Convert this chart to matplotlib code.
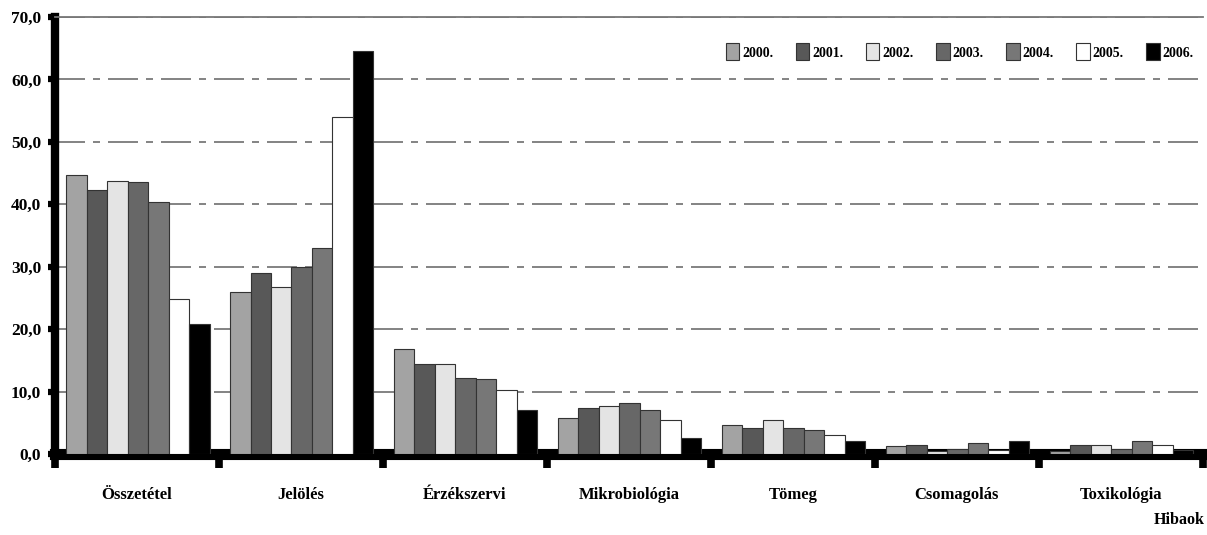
#!/usr/bin/env python3
"""
Grouped bar chart of food inspection faults by category, 2000-2006.
"""

import matplotlib.pyplot as plt  # type: ignore
from matplotlib.ticker import FuncFormatter  # type: ignore

categories = ["Összetétel", "Jelölés", "Érzékszervi", "Mikrobiológia",
              "Tömeg", "Csomagolás", "Toxikológia"]
years = ["2000.", "2001.", "2002.", "2003.", "2004.", "2005.", "2006."]

# percentage of faults per category, one list per year
v2000 = [44.7, 26.0, 16.8, 5.8, 4.6, 1.3, 0.5]
v2001 = [42.3, 29.0, 14.4, 7.4, 4.1, 1.4, 1.4]
v2002 = [43.8, 26.8, 14.4, 7.7, 5.4, 0.5, 1.4]
v2003 = [43.5, 30.0, 12.2, 8.2, 4.1, 0.8, 0.8]
v2004 = [40.3, 33.0, 12.0, 7.0, 3.8, 1.7, 2.1]
v2005 = [24.9, 54.0, 10.3, 5.4, 3.0, 0.7, 1.4]
v2006 = [20.8, 64.6, 7.0, 2.5, 2.1, 2.1, 0.7]
series = [v2000, v2001, v2002, v2003, v2004, v2005, v2006]

colors = ["#a3a3a3", "#585858", "#e4e4e4", "#676767", "#777777", "#ffffff", "#000000"]

FONT = "Liberation Serif"


def main() -> None:
    fig = plt.figure(figsize=(12.07, 5.35), dpi=100)
    ax = fig.add_axes([0.0456, 0.1514, 0.951, 0.8168])

    bar_w = 0.125
    offset = 0.067 + bar_w / 2
    for k, (vals, col) in enumerate(zip(series, colors)):
        xs = [i + offset + k * bar_w for i in range(len(categories))]
        ax.bar(xs, vals, width=bar_w, color=col, edgecolor="#333333",
               linewidth=0.8, label=years[k], zorder=3)

    ax.set_xlim(0, len(categories))
    ax.set_ylim(0, 70)

    # y axis: thick black line with square tick marks
    ax.set_yticks(range(0, 71, 10))
    ax.yaxis.set_major_formatter(FuncFormatter(lambda v, p: f"{v:.1f}".replace(".", ",")))
    ax.tick_params(axis="y", direction="out", length=5, width=4.5, pad=5,
                   labelsize=12.5)

    # x axis: group separators as ticks, category names at group centres
    ax.set_xticks(range(len(categories) + 1))
    ax.set_xticklabels([])
    ax.tick_params(axis="x", which="major", direction="out", length=10, width=5.5)
    ax.set_xticks([i + 0.5 for i in range(len(categories))], minor=True)
    ax.set_xticklabels(categories, minor=True)
    ax.tick_params(axis="x", which="minor", length=0, pad=24, labelsize=12)

    for lab in ax.get_xticklabels(minor=True) + ax.get_yticklabels():
        lab.set_fontfamily(FONT)
        lab.set_fontweight("bold")

    ax.spines["left"].set_linewidth(6)
    ax.spines["bottom"].set_linewidth(8)
    ax.spines["bottom"].set_zorder(2.6)
    ax.spines["top"].set_color("#777777")
    ax.spines["top"].set_linewidth(1.3)
    ax.spines["right"].set_visible(False)

    # dash-dot gridlines
    ax.set_axisbelow(True)
    ax.yaxis.grid(True, color="#6e6e6e", linewidth=1.2,
                  linestyle=(0, (18, 4.8, 4.2, 4.8)))

    leg = ax.legend(loc="center right", bbox_to_anchor=(0.998, 0.92), ncol=7,
                    frameon=False, handlelength=1.0, handleheight=1.5,
                    handletextpad=0.2, columnspacing=1.6, borderpad=0,
                    prop={"family": FONT, "weight": "bold", "size": 10})
    for h in leg.legend_handles:
        h.set_linewidth(0.8)

    fig.text(0.998, 0.028, "Hibaok", ha="right", va="center",
             fontfamily=FONT, fontweight="bold", fontsize=11.5)

    fig.savefig("out.png", dpi=100)
    plt.close(fig)


if __name__ == "__main__":
    main()
